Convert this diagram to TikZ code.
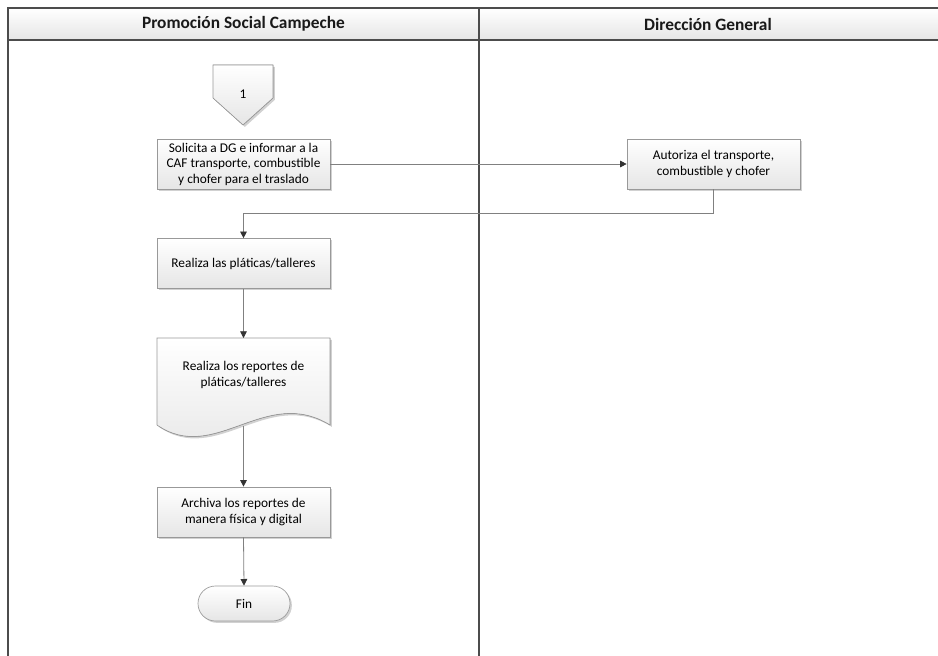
\documentclass[tikz,border=0pt]{standalone}
\usepackage{fontspec}
\setmainfont{Carlito}
\usetikzlibrary{arrows.meta,shadows}
\begin{document}
\begin{tikzpicture}[x=0.75pt,y=-0.75pt,
  lane/.style={draw=black!70, line width=0.8pt},
  hdr/.style={font=\fontsize{13}{15}\selectfont\bfseries, text=black!90},
  boxshadow/.style={drop shadow={shadow xshift=1.4pt, shadow yshift=-1.4pt, fill=black!40, opacity=0.45}},
  proc/.style={draw=black!40, line width=0.5pt, top color=white, bottom color=black!10,
    boxshadow, minimum width=129.75pt, minimum height=37.5pt, align=center,
    font=\fontsize{10}{11.6}\selectfont, inner sep=1pt},
  txt/.style={align=center, font=\fontsize{10}{11.6}\selectfont, inner sep=0pt},
  term/.style={proc, rounded corners=13pt, minimum width=69pt, minimum height=26.25pt},
  conn/.style={draw=black!50, line width=0.6pt, -{Triangle[length=5pt,width=5pt,color=black!80]}},
  line/.style={draw=black!50, line width=0.6pt}
]
\useasboundingbox (0,0) rectangle (938,656);
% header
\shade[top color=white, bottom color=black!10] (8,8) rectangle (938,40);
\draw[lane] (938,8) -- (8,8) -- (8,656);
\draw[lane] (8,40) -- (938,40);
\draw[lane] (479,8) -- (479,656);
\node[hdr] (h1) at (243.5,24) {Promoción Social Campeche};
\node[hdr] (h2) at (708,24) {Dirección General};

% off-page connector
\filldraw[draw=black!40, line width=0.5pt, top color=white, bottom color=black!10, boxshadow]
  (213,65) -- (273,65) -- (273,98) -- (243,125) -- (213,98) -- cycle;
\node[txt] (off) at (243,94) {1};

% processes
\node[proc] (b1) at (243.5,164) {Solicita a DG e informar a la\\CAF transporte, combustible\\y chofer para el traslado};
\node[proc] (b2) at (713.5,164) {Autoriza el transporte,\\combustible y chofer};
\node[proc] (b3) at (243.5,263.5) {Realiza las pláticas/talleres};

% document
\filldraw[draw=black!40, line width=0.5pt, top color=white, bottom color=black!10, boxshadow]
  (157,338) -- (330,338) -- (330,425) .. controls (265,385) and (215,465) .. (157,425) -- cycle;
\node[txt, minimum width=129.75pt] (doc) at (243.5,375) {Realiza los reportes de\\pláticas/talleres};
\coordinate (doctop) at (243.5,338);
\coordinate (docbot) at (243.5,426);

\node[proc] (b4) at (243.5,512) {Archiva los reportes de\\manera física y digital};
\node[term] (fin) at (244,603.5) {Fin};

% connectors
\draw[conn] (b1.east) -- (b2.west);
\coordinate (turn) at (713.5,213);
\draw[conn] (b2.south) -- (turn) -| (b3.north);
\draw[conn] (b3.south) -- (doctop);
\draw[conn] (docbot) -- (b4.north);
\draw[conn] (b4.south) -- (fin.north);
\end{tikzpicture}
\end{document}
